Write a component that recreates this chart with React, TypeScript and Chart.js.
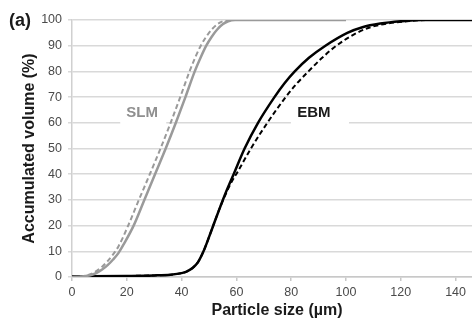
import React, { useEffect, useRef } from "react";
import { Chart, registerables } from "chart.js";

Chart.register(...registerables);

// Particle size (µm) and accumulated volume (%)
const slmSolidX = [0, 4, 7, 9, 11, 13, 15, 17, 19, 22.5, 26.4, 30.3, 34.2, 37.9, 41.4, 44.8, 47, 49, 51, 53, 55, 57, 59.5, 100];
const slmSolidY = [0, 0.2, 0.8, 1.6, 2.9, 4.6, 6.8, 9.4, 13, 20, 30, 40, 50, 60, 70, 80, 85.5, 90, 93.5, 96.3, 98.3, 99.5, 100, 100];

const slmDashX = [0, 4, 7, 9, 11, 13, 15, 17, 20.5, 24.4, 28.4, 32.3, 36, 39.5, 42.9, 45, 47, 49, 51, 53, 55, 57.5, 100];
const slmDashY = [0, 0.3, 1.2, 2.4, 4, 6.2, 8.8, 12, 20, 30, 40, 50, 60, 70, 80, 85.5, 90, 93.5, 96.3, 98.3, 99.5, 100, 100];

const ebmSolidX = [0, 20, 30, 36, 40, 42, 44, 46, 48, 50, 52, 54, 56, 59, 63, 67.9, 73.9, 77.5, 81.3, 86.5, 92.5, 100.5, 106, 112.5, 120, 128, 146];
const ebmSolidY = [0.2, 0.4, 0.6, 0.9, 1.5, 2.2, 3.5, 5.8, 10, 15.5, 21.3, 27, 32.5, 40, 50, 60, 70, 75.3, 80, 85.3, 90, 95, 97.2, 98.6, 99.5, 100, 100];

const ebmDashX = [0, 20, 30, 36, 40, 42, 44, 46, 48, 50, 52, 54, 56, 58, 60.5, 65.3, 71.3, 78, 82, 86.3, 91, 96.5, 104, 109, 115, 122, 130, 146];
const ebmDashY = [0.2, 0.4, 0.6, 0.9, 1.5, 2.2, 3.5, 5.8, 10, 15.5, 21.3, 27, 32, 36.5, 41, 50, 60, 70, 75.2, 80, 85, 90, 95, 97.2, 98.6, 99.5, 100, 100];

const xTickValues = [0, 20, 40, 60, 80, 100, 120, 140];
const yTickValues = [0, 10, 20, 30, 40, 50, 60, 70, 80, 90, 100];

const labelTexts = ["SLM", "EBM"];
const labelX = [25.6, 88.3];
const labelY = [63.8, 63.8];
const labelBoxX0 = [17.6, 79.9];
const labelBoxX1 = [34.4, 101.1];
const labelBoxY0 = [58.8, 58.8];
const labelBoxY1 = [68.5, 68.5];
const labelColors = ["#8f8f8f", "#1a1a1a"];

const panelTag = "(a)";
const xTitle = "Particle size (µm)";

const toPoints = (xs: number[], ys: number[]) => xs.map((x, i) => ({ x, y: ys[i] }));

const FONT = "'Liberation Sans', Arial, sans-serif";

const labelPlugin = {
  id: "curveLabels",
  beforeDatasetsDraw(chart: any) {
    const { ctx, scales } = chart;
    const xs = scales.x;
    const ys = scales.y;
    ctx.save();
    labelTexts.forEach((t, i) => {
      const x0 = xs.getPixelForValue(labelBoxX0[i]);
      const x1 = xs.getPixelForValue(labelBoxX1[i]);
      const y0 = ys.getPixelForValue(labelBoxY1[i]);
      const y1 = ys.getPixelForValue(labelBoxY0[i]);
      ctx.fillStyle = "#ffffff";
      ctx.fillRect(x0, y0, x1 - x0, y1 - y0);
      ctx.fillStyle = labelColors[i];
      ctx.font = `bold 15px ${FONT}`;
      ctx.textAlign = "center";
      ctx.textBaseline = "middle";
      ctx.fillText(t, xs.getPixelForValue(labelX[i]), ys.getPixelForValue(labelY[i]));
    });
    ctx.restore();
  },
  afterDraw(chart: any) {
    const { ctx, chartArea } = chart;
    ctx.save();
    ctx.fillStyle = "#1a1a1a";
    ctx.font = `bold 18px ${FONT}`;
    ctx.textAlign = "left";
    ctx.textBaseline = "middle";
    ctx.fillText(panelTag, 9, chartArea.top + 1);
    ctx.font = `bold 16px ${FONT}`;
    ctx.textAlign = "center";
    ctx.fillText(xTitle, (chartArea.left + chartArea.right) / 2 + 5, chart.height - 11);
    ctx.restore();
  },
};

export default function App() {
  const ref = useRef<HTMLCanvasElement | null>(null);

  useEffect(() => {
    if (!ref.current) return;
    const common = { pointRadius: 0, cubicInterpolationMode: "monotone" };
    const chart = new Chart(ref.current, {
      type: "line",
      data: {
        datasets: [
          { label: "SLM solid", data: toPoints(slmSolidX, slmSolidY), borderColor: "#9a9a9a", borderWidth: 2.5, ...common },
          { label: "SLM dashed", data: toPoints(slmDashX, slmDashY), borderColor: "#9a9a9a", borderWidth: 2, borderDash: [5, 3], ...common },
          { label: "EBM solid", data: toPoints(ebmSolidX, ebmSolidY), borderColor: "#000000", borderWidth: 2.5, ...common },
          { label: "EBM dashed", data: toPoints(ebmDashX, ebmDashY), borderColor: "#000000", borderWidth: 2, borderDash: [5, 3], ...common },
        ],
      },
      options: {
        responsive: false,
        animation: false,
        layout: { padding: { top: 20, right: 0, bottom: 0, left: 0 } },
        plugins: { legend: { display: false }, tooltip: { enabled: false } },
        scales: {
          x: {
            type: "linear",
            min: 0,
            max: 146,
            afterFit: (s: any) => {
              s.height = 45;
            },
            afterBuildTicks: (s: any) => {
              s.ticks = xTickValues.map((v) => ({ value: v }));
            },
            ticks: {
              color: "#4a4a4a",
              font: { family: FONT, size: 12.5 },
              padding: 4,
              maxRotation: 0,
            },
            grid: {
              drawOnChartArea: false,
              drawTicks: true,
              tickLength: 4,
              color: "#c8c8c8",
              lineWidth: 1.5,
            },
            border: { color: "#c8c8c8", width: 1.5 },
            title: { display: false },
          },
          y: {
            type: "linear",
            min: 0,
            max: 100,
            afterFit: (s: any) => {
              s.width = 72;
            },
            afterBuildTicks: (s: any) => {
              s.ticks = yTickValues.map((v) => ({ value: v }));
            },
            ticks: {
              color: "#4a4a4a",
              font: { family: FONT, size: 12.5 },
              padding: 6,
            },
            grid: {
              color: "#d9d9d9",
              lineWidth: 1.5,
              drawTicks: true,
              tickLength: 4,
            },
            border: { color: "#d0d0d0", width: 1.5 },
            title: {
              display: true,
              text: "Accumulated volume (%)",
              color: "#1a1a1a",
              font: { family: FONT, size: 16, weight: "bold" },
              padding: { top: 20, bottom: 0 },
            },
          },
        },
      },
      plugins: [labelPlugin],
    } as any);
    return () => chart.destroy();
  }, []);

  return (
    <div style={{ position: "absolute", left: 0, top: 0, width: 472, height: 322, background: "#fff" }}>
      <canvas ref={ref} width={472} height={322} />
    </div>
  );
}
